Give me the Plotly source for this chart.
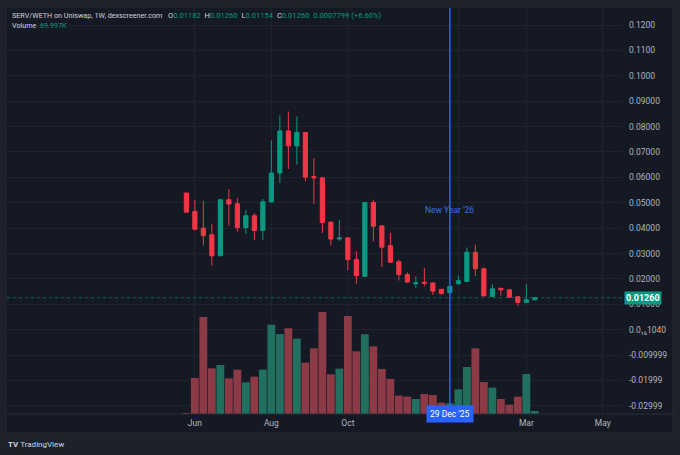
import pandas as pd
import plotly.graph_objects as go

# weekly candles, SERV/WETH
start_week = "2025-05-26"
opens = [0.0538, 0.0466, 0.0400, 0.0374, 0.0291, 0.0512, 0.0496, 0.0402, 0.0449, 0.0391,
         0.0503, 0.0617, 0.0783, 0.0724, 0.0777, 0.0603, 0.0598, 0.0424, 0.0357, 0.0362,
         0.0276, 0.0210, 0.0501, 0.0409, 0.0331, 0.0268, 0.0217, 0.0181, 0.0187, 0.0184,
         0.0159, 0.0146, 0.0181, 0.0190, 0.0305, 0.0240, 0.0131, 0.0163, 0.0157, 0.0130,
         0.0107, 0.01182]
highs = [0.0540, 0.0512, 0.0508, 0.0417, 0.0514, 0.0554, 0.0518, 0.0472, 0.0459, 0.0515,
         0.0745, 0.0844, 0.0859, 0.0840, 0.0778, 0.0676, 0.0599, 0.0425, 0.0433, 0.0363,
         0.0308, 0.0503, 0.0512, 0.0410, 0.0381, 0.0276, 0.0226, 0.0210, 0.0244, 0.0186,
         0.0159, 0.0171, 0.0214, 0.0324, 0.0335, 0.0245, 0.0180, 0.0165, 0.0158, 0.0131,
         0.0180, 0.01260]
lows = [0.0462, 0.0391, 0.0331, 0.0252, 0.0290, 0.0409, 0.0387, 0.0377, 0.0354, 0.0354,
        0.0503, 0.0578, 0.0633, 0.0650, 0.0585, 0.0495, 0.0381, 0.0331, 0.0350, 0.0235,
        0.0181, 0.0208, 0.0348, 0.0247, 0.0264, 0.0194, 0.0184, 0.0165, 0.0171, 0.0137,
        0.0137, 0.0145, 0.0177, 0.0189, 0.0211, 0.0132, 0.0131, 0.0134, 0.0127, 0.0094,
        0.0106, 0.01154]
closes = [0.0463, 0.0396, 0.0370, 0.0291, 0.0512, 0.0495, 0.0402, 0.0449, 0.0391, 0.0504,
          0.0617, 0.0783, 0.0724, 0.0777, 0.0601, 0.0598, 0.0422, 0.0357, 0.0361, 0.0276,
          0.0213, 0.0501, 0.0407, 0.0325, 0.0266, 0.0217, 0.0188, 0.0185, 0.0183, 0.0152,
          0.0143, 0.0170, 0.0193, 0.0305, 0.0240, 0.0133, 0.0161, 0.0157, 0.0128, 0.0107,
          0.01182, 0.01260]
volumes = [15000, 840000, 2264000, 1066000, 1144000, 832000, 1035000, 739000, 871000, 1035000,
           2085000, 1867000, 2000000, 1758000, 1198000, 1533000, 2381000, 926000, 1058000, 2287000,
           1463000, 1859000, 1579000, 1050000, 817000, 428000, 405000, 350000, 467000, 443000,
           265000, 249000, 576000, 1097000, 1533000, 747000, 615000, 350000, 218000, 405000,
           934000, 69997]

# axis ticks
price_ticks = [0.12, 0.11, 0.10, 0.09, 0.08, 0.07, 0.06, 0.05, 0.04, 0.03, 0.02, 0.01, 0.0,
               -0.01, -0.02, -0.03]
price_tick_labels = ["0.1200", "0.1100", "0.1000", "0.09000", "0.08000", "0.07000", "0.06000",
                     "0.05000", "0.04000", "0.03000", "0.02000", "0.01000", "0.0\u2081\u20861040",
                     "-0.009999", "-0.01999", "-0.02999"]
month_ticks = ["2025-06-02", "2025-08-04", "2025-10-06", "2026-01-05", "2026-03-02", "2026-05-04"]
month_labels = ["Jun", "Aug", "Oct", "", "Mar", "May"]  # Jan label sits under the date badge

marker_date = "2025-12-29"
marker_label = "29 Dec '25"
event_label = "New Year '26"
pair_text = "SERV/WETH on Uniswap, 1W, dexscreener.com"
change_text = "0.0007799 (+6.60%)"
volume_text = "69.997K"

UP = "#089981"
DOWN = "#f23645"
UP_VOL = "#21705f"
DOWN_VOL = "#8c3a46"
PANEL = "#151924"
GRID = "#1f2330"
TXT = "#b2b5be"
BLUE = "#2962ff"

W, H = 680, 455
ml, mr, mt, mb = 7, 57, 8, 41
pw, ph = W - ml - mr, H - mt - mb


def px_x(x):
    return (x - ml) / pw


def px_y(y):
    return (H - mb - y) / ph


dates = pd.date_range(start_week, periods=len(opens), freq="7D")
vol_colors = [UP_VOL if c >= o else DOWN_VOL for o, c in zip(opens, closes)]

fig = go.Figure()
fig.add_trace(go.Bar(
    x=dates, y=volumes, yaxis="y2",
    marker=dict(color=vol_colors, line=dict(width=0)),
    hoverinfo="skip",
))
fig.add_trace(go.Candlestick(
    x=dates, open=opens, high=highs, low=lows, close=closes,
    increasing=dict(line=dict(color=UP, width=1), fillcolor=UP),
    decreasing=dict(line=dict(color=DOWN, width=1), fillcolor=DOWN),
))

# panel background and borders
fig.add_shape(type="rect", xref="paper", yref="paper", x0=px_x(6), x1=px_x(673),
              y0=px_y(433), y1=px_y(7), fillcolor=PANEL, line=dict(color="#262a35", width=1),
              layer="below")
fig.add_shape(type="line", xref="paper", yref="paper", x0=px_x(6), x1=px_x(673), y0=0, y1=0,
              line=dict(color="#2a2e39", width=1))

# last price line
fig.add_shape(type="line", xref="paper", yref="y", x0=0, x1=1, y0=closes[-1], y1=closes[-1],
              line=dict(color="rgba(8,153,129,0.6)", width=1, dash="dot"))

# new year marker
fig.add_shape(type="line", xref="x", yref="paper", x0=marker_date, x1=marker_date, y0=0, y1=1,
              line=dict(color=BLUE, width=1.5))
fig.add_annotation(x=marker_date, y=0.047, xref="x", yref="y", text=event_label,
                   showarrow=False, font=dict(color="#3a6be8", size=8.5))
fig.add_annotation(x=marker_date, y=px_y(423), xref="x", yref="paper", text=marker_label,
                   showarrow=False, bgcolor=BLUE, borderpad=3,
                   font=dict(color="white", size=8.5))

# last price label on the scale
fig.add_annotation(x=px_x(624), y=closes[-1], xref="paper", yref="y", xanchor="left",
                   text="<b>%.5f</b>" % closes[-1], showarrow=False, bgcolor=UP,
                   borderpad=1, font=dict(color="white", size=9))

# legend header
g = "<span style='color:%s'>%s</span>"
ohlc = ("O" + g % (UP, "%.5f" % opens[-1]) + "&nbsp;&nbsp;"
        "H" + g % (UP, "%.5f" % highs[-1]) + "&nbsp;&nbsp;"
        "L" + g % (UP, "%.5f" % lows[-1]) + "&nbsp;&nbsp;"
        "C" + g % (UP, "%.5f" % closes[-1]) + "&nbsp;&nbsp;"
        + g % (UP, change_text))
fig.add_annotation(x=px_x(10), y=px_y(15.5), xref="paper", yref="paper", text=pair_text,
                   showarrow=False, xanchor="left", yanchor="middle",
                   font=dict(color="#d1d4dc", size=7.2))
fig.add_annotation(x=px_x(166), y=px_y(15.5), xref="paper", yref="paper", text=ohlc,
                   showarrow=False, xanchor="left", yanchor="middle",
                   font=dict(color="#d1d4dc", size=7.6))
fig.add_annotation(x=px_x(10), y=px_y(25), xref="paper", yref="paper",
                   text="Volume&nbsp;&nbsp;" + g % (UP, volume_text), showarrow=False,
                   xanchor="left", yanchor="middle", font=dict(color="#d1d4dc", size=7.2))

# TradingView footer
fig.add_annotation(x=px_x(6), y=px_y(444), xref="paper", yref="paper",
                   text="<b>TV</b>&nbsp;TradingView", showarrow=False, xanchor="left",
                   yanchor="middle", font=dict(color="#d1d4dc", size=8))

fig.update_layout(
    width=W, height=H,
    margin=dict(l=ml, r=mr, t=mt, b=mb),
    paper_bgcolor="#1e212a",
    plot_bgcolor=PANEL,
    showlegend=False,
    bargap=0.08,
    font=dict(family="Roboto", color=TXT, size=8.5),
    xaxis=dict(
        type="date", range=["2024-12-29 07:00", "2026-05-20 14:00"],
        rangeslider=dict(visible=False),
        tickvals=month_ticks, ticktext=month_labels,
        showgrid=True, gridcolor=GRID, zeroline=False, showline=False,
        ticks="", ticklabelstandoff=2, tickfont=dict(size=8.5, color=TXT),
    ),
    yaxis=dict(
        side="right", range=[-0.0332, 0.1267],
        tickvals=price_ticks, ticktext=price_tick_labels,
        showgrid=True, gridcolor=GRID, zeroline=False, showline=False,
        ticks="", ticklabelstandoff=5, tickfont=dict(size=8.5, color=TXT),
    ),
    yaxis2=dict(overlaying="y", range=[0, 9473000], visible=False, showgrid=False),
)

fig.write_html("out.html", config={"displayModeBar": False},
               post_script="document.body.style.margin='0';")
